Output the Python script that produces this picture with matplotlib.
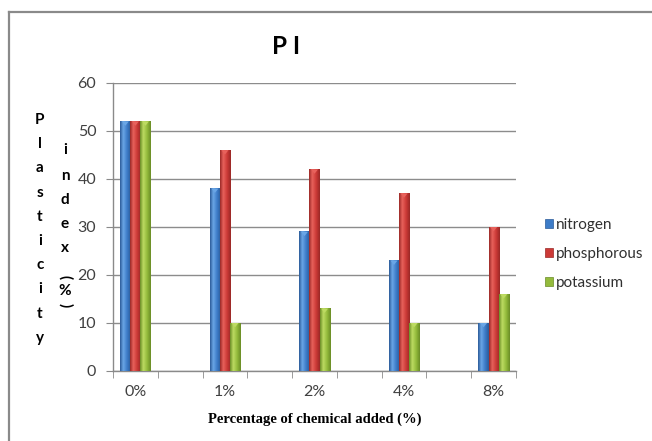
import matplotlib
matplotlib.use('Agg')
import matplotlib.pyplot as plt
import numpy as np
from matplotlib.colors import LinearSegmentedColormap
from matplotlib.patches import Patch

# plasticity index per dose, one list per nutrient
doses = ['0%', '1%', '2%', '4%', '8%']
nitrogen = [52, 38, 29, 23, 10]
phosphorous = [52, 46, 42, 37, 30]
potassium = [52, 10, 13, 10, 16]
series_names = ['nitrogen', 'phosphorous', 'potassium']

# (edge, highlight, body) shades for the cylinder-style fill
shades = {
    'nitrogen': ('#2b5a98', '#6aa6e6', '#3d7cc8'),
    'phosphorous': ('#9a2826', '#e8625c', '#cc3a37'),
    'potassium': ('#6a8c26', '#bddb62', '#94bb3c'),
}

W, H = 652, 441
fig = plt.figure(figsize=(W / 100, H / 100), dpi=100)
fig.patch.set_facecolor('white')

# thin frame on the top and left edge of the chart area
fig.add_artist(plt.Line2D([9 / W, 9 / W], [0, 1 - 12 / H], transform=fig.transFigure,
                          color='#8a8a8a', lw=1.6))
fig.add_artist(plt.Line2D([9 / W, 1], [1 - 12 / H, 1 - 12 / H], transform=fig.transFigure,
                          color='#8a8a8a', lw=1.6))

ax = fig.add_axes([113 / W, 1 - 371 / H, (516 - 113) / W, (371 - 83) / H])

pos = np.arange(len(doses)) * 2  # empty slot between each dose
bw = 0.225
data = [nitrogen, phosphorous, potassium]
for k, (name, vals) in enumerate(zip(series_names, data)):
    dark, light, body = shades[name]
    cmap = LinearSegmentedColormap.from_list(
        name, [(0, dark), (0.3, light), (0.65, body), (1, dark)])
    bars = ax.bar(pos + (k - 1) * bw, vals, bw, color=body, edgecolor='none', zorder=2)
    grad = np.linspace(0, 1, 64).reshape(1, -1)
    for r in bars:
        x0, h = r.get_x(), r.get_height()
        ax.imshow(grad, extent=(x0, x0 + r.get_width(), 0, h), cmap=cmap,
                  aspect='auto', zorder=3, interpolation='bilinear')
        # small bevel at the bar top
        ax.fill([x0 + 0.15 * bw, x0 + 0.85 * bw, x0 + 0.5 * bw], [h, h, h - 0.9],
                color=light, zorder=4, lw=0)

ax.set_xlim(-0.5, 8.5)
ax.set_ylim(0, 60)
ax.set_yticks(range(0, 61, 10))
ax.set_xticks(pos)
ax.set_xticklabels(doses)
ax.set_xticks(np.arange(-0.5, 9, 1), minor=True)
ax.tick_params(axis='x', which='major', length=0, pad=10)
ax.tick_params(axis='x', which='minor', length=5, color='#8a8a8a', direction='out')
ax.tick_params(axis='y', length=5, color='#8a8a8a', pad=7)
for lab in ax.get_xticklabels() + ax.get_yticklabels():
    lab.set_fontfamily('Lato')
    lab.set_fontsize(11.5)
    lab.set_color('#404040')

ax.grid(axis='y', color='#8c8c8c', lw=1, zorder=0)
ax.set_axisbelow(True)
for s in ('top', 'right'):
    ax.spines[s].set_visible(False)
for s in ('left', 'bottom'):
    ax.spines[s].set_color('#8a8a8a')
    ax.spines[s].set_linewidth(1)

fig.text(286 / W, 1 - 47 / H, 'P I', ha='center', va='center',
         fontsize=17.5, fontweight='bold', family='Lato')

ax.set_xlabel('Percentage of chemical added (%)', family='Liberation Serif',
              fontweight='bold', fontsize=10.5, labelpad=10)

# vertical stacked y label, two columns
col1 = 'Plasticity'
col2 = 'index(%)'
y0, step = 120, 24.2
for i, ch in enumerate(col1):
    fig.text(40 / W, 1 - (y0 + i * step) / H, ch, ha='center', va='center',
             fontsize=11, fontweight='bold', family='Lato')
y_pos2 = [150, 176, 200, 224, 248, 277, 291, 305]
for ch, yy in zip(col2, y_pos2):
    rot = -90 if ch in '()' else 0
    fig.text(65 / W, 1 - yy / H, ch, ha='center', va='center', rotation=rot,
             fontsize=11, fontweight='bold', family='Lato')

handles = [Patch(facecolor=shades[n][2], edgecolor=shades[n][0], lw=0.5) for n in series_names]
fig.legend(handles, series_names, loc='center left', bbox_to_anchor=(531 / W, 1 - 254 / H),
           frameon=False, prop={'family': 'Lato', 'size': 11}, handlelength=0.55,
           handleheight=0.55, handletextpad=0.2, labelspacing=1.0, labelcolor='#303030')

fig.savefig('out.png', dpi=100)
